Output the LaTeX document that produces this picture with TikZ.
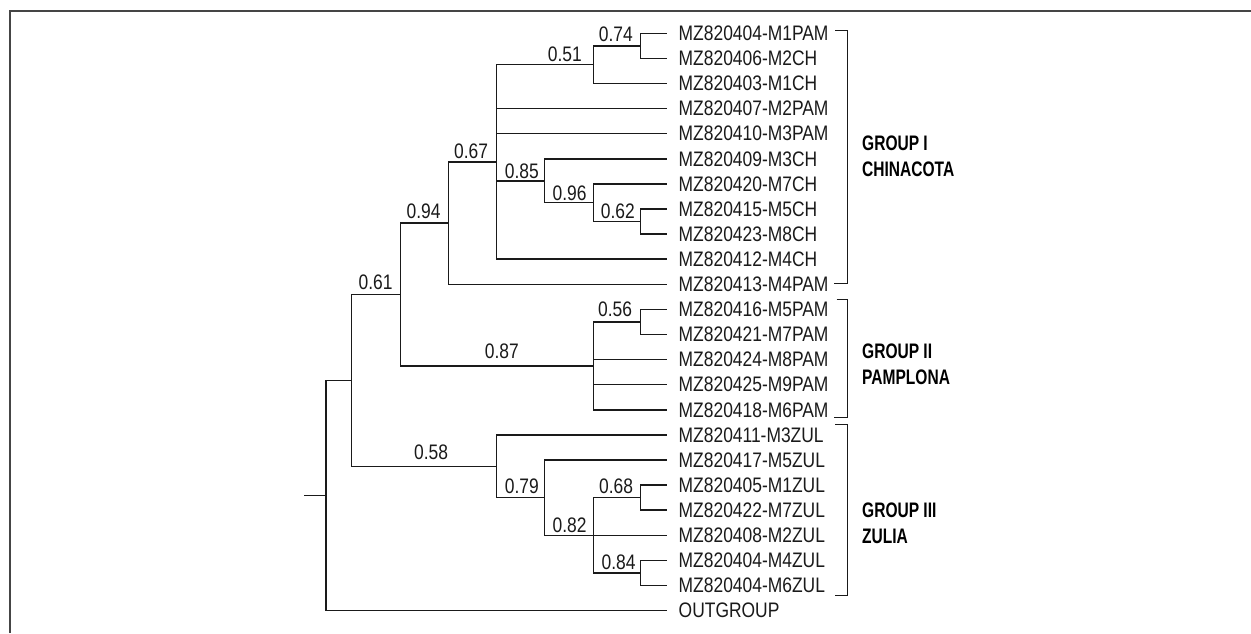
\documentclass[tikz,border=0pt]{standalone}
\usepackage{fontspec}
\setmainfont{Liberation Sans}[FakeStretch=0.83]
\newfontfamily\grpfont{Liberation Sans}[FakeStretch=0.74]
\usepackage{tikz}
\definecolor{treecolor}{HTML}{1A1A1A}
\definecolor{framecolor}{HTML}{454545}
\tikzset{
  branch/.style={treecolor, line width=1.5pt},
  leaf/.style={anchor=west, inner xsep=11.5pt, inner ysep=0pt, text=treecolor,
    font={\fontsize{21}{24}\selectfont}},
  support/.style={anchor=base east, inner sep=0pt, text=treecolor,
    font={\fontsize{21}{24}\selectfont}},
  grouplabel/.style={anchor=north west, inner sep=0pt, align=left, text=black,
    font={\grpfont\bfseries\fontsize{21}{26}\selectfont}}
}

\begin{document}
\begin{tikzpicture}[x=1pt, y=-1pt]
  \useasboundingbox (0,0) rectangle (1251,633);
  % cerceve
  \draw[framecolor, line width=2pt] (9.5,633) -- (9.5,10.5) -- (1251,10.5);
  % yapraklar
  \foreach \lname [count=\i] in {MZ820404-M1PAM, MZ820406-M2CH, MZ820403-M1CH,
      MZ820407-M2PAM, MZ820410-M3PAM, MZ820409-M3CH, MZ820420-M7CH, MZ820415-M5CH,
      MZ820423-M8CH, MZ820412-M4CH, MZ820413-M4PAM, MZ820416-M5PAM, MZ820421-M7PAM,
      MZ820424-M8PAM, MZ820425-M9PAM, MZ820418-M6PAM, MZ820411-M3ZUL, MZ820417-M5ZUL,
      MZ820405-M1ZUL, MZ820422-M7ZUL, MZ820408-M2ZUL, MZ820404-M4ZUL, MZ820404-M6ZUL,
      OUTGROUP}
    \node[leaf] (l\i) at (667, {33.3+(\i-1)*25.1}) {\lname};
  % ic dugumler
  \coordinate (n074) at (640.7, 45.85);
  \coordinate (n051) at (593.3, 64.7);
  \coordinate (n062) at (640.7, 221.55);
  \coordinate (n096) at (593.3, 202.7);
  \coordinate (n085) at (544.3, 180.75);
  \coordinate (n067) at (496.3, 161.95);
  \coordinate (n094) at (448.3, 223.1);
  \coordinate (n056) at (640.7, 321.95);
  \coordinate (n087) at (593.3, 365.9);
  \coordinate (n061) at (400.7, 294.5);
  \coordinate (n068) at (640.7, 497.65);
  \coordinate (n084) at (640.7, 572.95);
  \coordinate (n082) at (593.3, 535.3);
  \coordinate (n079) at (544.3, 497.65);
  \coordinate (n058) at (496.3, 466.3);
  \coordinate (ingroup) at (351.7, 380.4);
  \coordinate (root) at (326, 495.5);
  \coordinate (stub) at (304, 495.5);
  % dallar
  \foreach \p/\c in {n074/l1.west, n074/l2.west, n051/n074, n051/l3.west,
      n067/n051, n067/l4.west, n067/l5.west, n067/n085, n067/l10.west,
      n085/l6.west, n085/n096, n096/l7.west, n096/n062, n062/l8.west, n062/l9.west,
      n094/n067, n094/l11.west, n061/n094, n061/n087,
      n087/n056, n087/l14.west, n087/l15.west, n087/l16.west,
      n056/l12.west, n056/l13.west, ingroup/n061, ingroup/n058,
      n058/l17.west, n058/n079, n079/l18.west, n079/n082,
      n082/n068, n082/l21.west, n082/n084, n068/l19.west, n068/l20.west,
      n084/l22.west, n084/l23.west, root/ingroup, root/l24.west}
    \draw[branch] (\p) |- (\c);
  \draw[branch] (stub) -- (root);
  % destek degerleri
  \node[support] (s074) at (633, 41.7) {0.74};
  \node[support] (s051) at (582, 61) {0.51};
  \node[support] (s067) at (488.3, 158.3) {0.67};
  \node[support] (s085) at (539, 178.3) {0.85};
  \node[support] (s096) at (586.7, 200.7) {0.96};
  \node[support] (s062) at (635, 218.3) {0.62};
  \node[support] (s094) at (440.7, 218.3) {0.94};
  \node[support] (s061) at (392.7, 289) {0.61};
  \node[support] (s056) at (632.3, 316) {0.56};
  \node[support] (s087) at (519, 358.3) {0.87};
  \node[support] (s058) at (448.3, 459.3) {0.58};
  \node[support] (s079) at (539, 493.3) {0.79};
  \node[support] (s068) at (633.3, 493.3) {0.68};
  \node[support] (s082) at (586.7, 532.3) {0.82};
  \node[support] (s084) at (635.7, 569.3) {0.84};
  % gruplar
  \draw[branch, line width=1.2pt] (835,30.7) -- (847.7,30.7) -- (847.7,283.3) -- (834,283.3);
  \draw[branch, line width=1.2pt] (836.7,299.3) -- (847.3,299.3) -- (847.3,417.7) -- (834,417.7);
  \draw[branch, line width=1.2pt] (835,424.3) -- (847.7,424.3) -- (847.7,595.7) -- (835,595.7);
  \node[grouplabel] (g1) at (862, 135.5) {GROUP I\\CHINACOTA};
  \node[grouplabel] (g2) at (862, 343.5) {GROUP II\\PAMPLONA};
  \node[grouplabel] (g3) at (862, 503) {GROUP III\\ZULIA};
\end{tikzpicture}
\end{document}
